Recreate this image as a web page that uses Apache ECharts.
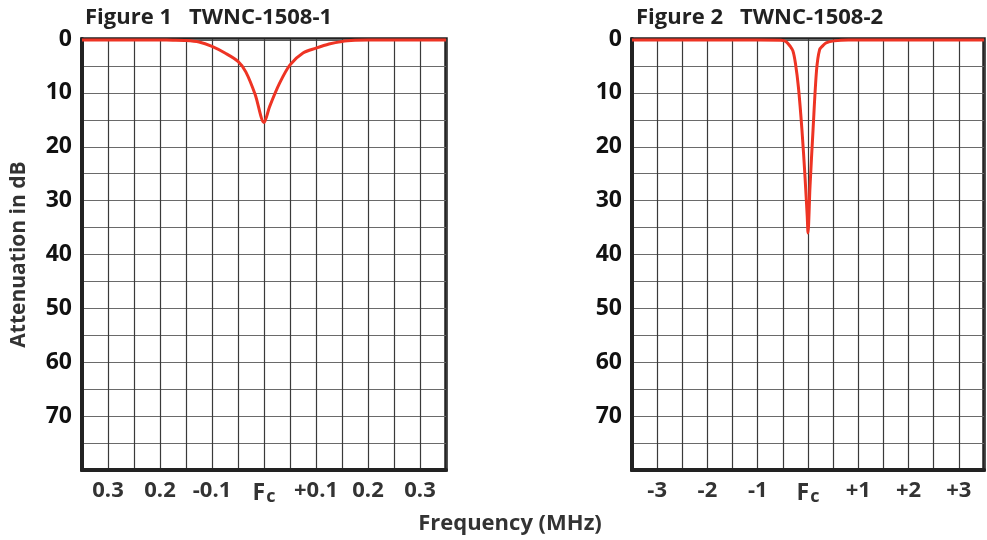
<!DOCTYPE html>
<html>
<head>
<meta charset="utf-8">
<script src="https://cdn.jsdelivr.net/npm/echarts@6/dist/echarts.min.js"></script>
<style>html,body{margin:0;padding:0;background:#fff;}#c{width:987px;height:540px;}</style>
</head>
<body>
<div id="c"></div>
<script>
// Figure 1: TWNC-1508-1 (offset in MHz, attenuation in dB)
var fig1Offsets = [-0.35,-0.25,-0.2,-0.175,-0.15,-0.125,-0.1,-0.075,-0.05,-0.035,-0.017,0,0.011,0.03,0.05,0.075,0.1,0.125,0.15,0.175,0.2,0.25,0.35];
var fig1Atten   = [0.2,0.2,0.2,0.22,0.28,0.56,1.37,2.6,4.15,6.1,10.3,15.5,12.5,8.2,4.8,2.6,1.7,0.93,0.45,0.25,0.2,0.2,0.2];
// Figure 2: TWNC-1508-2
var fig2Offsets = [-3.5,-1.0,-0.54,-0.44,-0.35,-0.3,-0.25,-0.19,-0.12,-0.06,-0.015,0,0.04,0.1,0.17,0.23,0.3,0.36,0.52,0.8,1.5,3.5];
var fig2Atten   = [0.2,0.2,0.22,0.45,1.4,2.2,4.5,9.0,16.9,25.5,33,36,27.4,16.9,5.8,2.0,1.2,0.7,0.35,0.2,0.2,0.2];
// Tick labels
var yTickValues = [0,10,20,30,40,50,60,70];
var fig1TickValues = [-0.3,-0.2,-0.1,0,0.1,0.2,0.3];
var fig1TickLabels = ['0.3','0.2','-0.1','Fc','+0.1','0.2','0.3'];
var fig2TickValues = [-3,-2,-1,0,1,2,3];
var fig2TickLabels = ['-3','-2','-1','Fc','+1','+2','+3'];
var titles = ['Figure 1   TWNC-1508-1','Figure 2   TWNC-1508-2'];
var yAxisTitle = 'Attenuation in dB';
var xAxisTitle = 'Frequency (MHz)';

function xFormatter(vals, labels, scale) {
  return function (v) {
    for (var i = 0; i < vals.length; i++) {
      if (Math.round(v * scale) === Math.round(vals[i] * scale)) {
        return labels[i] === 'Fc' ? '{f|F}{s|c}' : labels[i];
      }
    }
    return '';
  };
}
function yFormatter(v) {
  return yTickValues.indexOf(Math.round(v)) >= 0 ? String(Math.round(v)) : '';
}
var FONT = '"Open Sans", Lato, sans-serif';
var xLabelStyle = {
  color: '#333', fontSize: 22, fontWeight: 'bold', fontFamily: FONT, margin: 10,
  rich: {
    f: {fontSize: 23, fontWeight: 'bold', color: '#333', fontFamily: FONT},
    s: {fontSize: 18, fontWeight: 'bold', color: '#333', fontFamily: FONT, padding: [8, 0, 0, 1]}
  }
};
function mkX(idx, min, max, interval, vals, labels, scale) {
  var lab = Object.assign({}, xLabelStyle, {formatter: xFormatter(vals, labels, scale), showMinLabel: true, showMaxLabel: true});
  return {
    type: 'value', gridIndex: idx, min: min, max: max, interval: interval,
    axisLine: {show: true, onZero: false, lineStyle: {color: '#222', width: 4}},
    axisTick: {show: false},
    axisLabel: lab,
    splitLine: {show: true, lineStyle: {color: '#3a3a3a', width: 1.2}}
  };
}
function mkY(idx, name) {
  return {
    type: 'value', gridIndex: idx, min: 0, max: 80, interval: 5, inverse: true,
    name: name, nameLocation: 'middle', nameGap: 52, nameRotate: 90,
    nameTextStyle: {color: '#333', fontSize: 21, fontWeight: 'bold', fontFamily: FONT},
    axisLine: {show: true, onZero: false, lineStyle: {color: '#222', width: 4}},
    axisTick: {show: false},
    axisLabel: {color: '#111', fontSize: 23, fontWeight: 'bold', fontFamily: FONT, margin: 10, formatter: yFormatter, showMinLabel: true},
    splitLine: {show: true, lineStyle: {color: '#6a6a6a', width: 1.2}}
  };
}
function pairs(xs, ys) { return xs.map(function (x, i) { return [x, ys[i]]; }); }

var chart = echarts.init(document.getElementById('c'));
chart.setOption({
  animation: false,
  backgroundColor: '#fff',
  title: [
    {text: titles[0], left: 80, top: 2, textStyle: {color: '#222', fontSize: 22, fontWeight: 'bold', fontFamily: FONT}},
    {text: titles[1], left: 631, top: 2, textStyle: {color: '#222', fontSize: 22, fontWeight: 'bold', fontFamily: FONT}}
  ],
  grid: [
    {left: 82, top: 39, width: 364, height: 431, show: true, borderColor: '#222', borderWidth: 3.5, backgroundColor: 'transparent'},
    {left: 632, top: 39, width: 364, height: 431, show: true, borderColor: '#222', borderWidth: 3.5, backgroundColor: 'transparent'}
  ],
  xAxis: [
    mkX(0, -0.35, 0.35, 0.05, fig1TickValues, fig1TickLabels, 100),
    mkX(1, -3.5, 3.5, 0.5, fig2TickValues, fig2TickLabels, 10)
  ],
  yAxis: [mkY(0, yAxisTitle), mkY(1, '')],
  graphic: [{
    type: 'text', x: 510, y: 524,
    style: {text: xAxisTitle, fill: '#333', fontSize: 22, fontWeight: 'bold', fontFamily: FONT, align: 'center', verticalAlign: 'middle'}
  }],
  series: [
    {type: 'line', xAxisIndex: 0, yAxisIndex: 0, data: pairs(fig1Offsets, fig1Atten), showSymbol: false, smooth: 0.3,
     lineStyle: {color: '#ee3424', width: 3}, z: 5},
    {type: 'line', xAxisIndex: 1, yAxisIndex: 1, data: pairs(fig2Offsets, fig2Atten), showSymbol: false, smooth: 0.3,
     lineStyle: {color: '#ee3424', width: 3}, z: 5}
  ]
});
</script>
</body>
</html>
